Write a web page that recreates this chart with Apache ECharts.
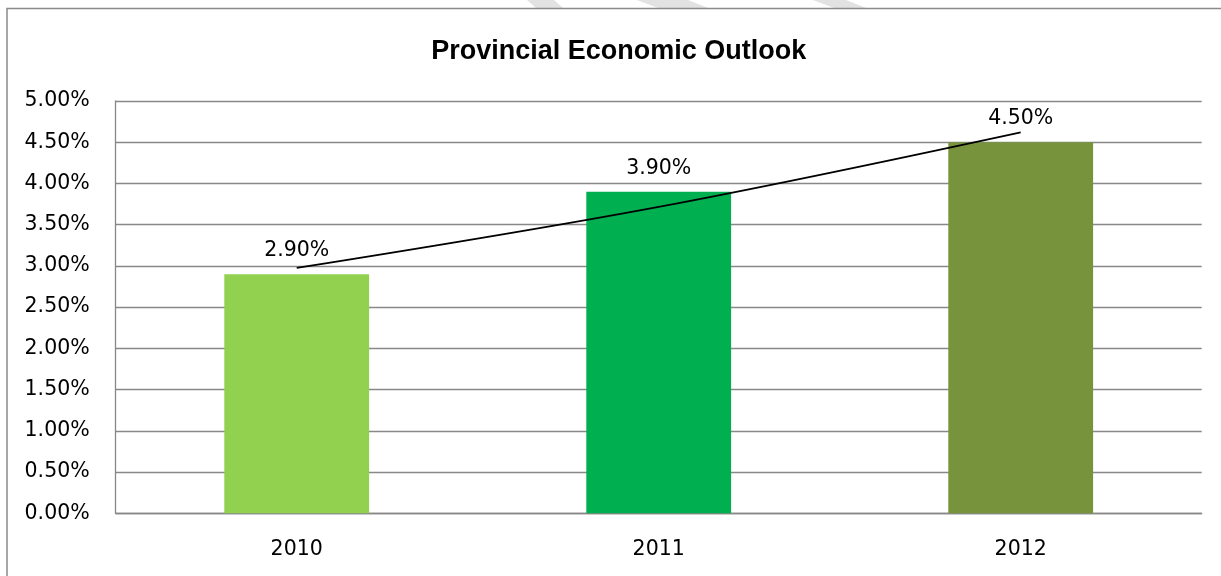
<!DOCTYPE html>
<html>
<head>
<meta charset="utf-8">
<script src="https://cdn.jsdelivr.net/npm/echarts@6/dist/echarts.min.js"></script>
<style>
html,body{margin:0;padding:0;background:#fff;}
#chart{width:1221px;height:576px;}
</style>
</head>
<body>
<div id="chart"></div>
<script>
const categories = ['2010', '2011', '2012'];
const growthValues = [2.9, 3.9, 4.5];
const barColors = ['#92D050', '#00B050', '#77933C'];
const trendValues = [2.975, 3.716, 4.62];
const yTickMin = 0, yTickMax = 5, yTickStep = 0.5;
const titleText = 'Provincial Economic Outlook';

const chart = echarts.init(document.getElementById('chart'), null, {renderer: 'canvas'});
const axisFont = {fontFamily: 'DejaVu Sans', fontSize: 20.5, color: '#000'};

chart.setOption({
  animation: false,
  backgroundColor: '#fff',
  title: {
    text: titleText,
    left: 618.7,
    textAlign: 'center',
    top: 38,
    padding: 0,
    textStyle: {fontFamily: 'Liberation Sans', fontWeight: 'bold', fontSize: 27, color: '#000'}
  },
  graphic: [
    {type: 'polygon', shape: {points: [[527,0],[554,0],[563,8],[536,8]]}, style: {fill: '#e2e2e2'}, silent: true},
    {type: 'polygon', shape: {points: [[637,0],[688,0],[708,8],[658,8]]}, style: {fill: '#e2e2e2'}, silent: true},
    {type: 'polygon', shape: {points: [[813,0],[846,0],[866,8],[834,8]]}, style: {fill: '#e2e2e2'}, silent: true},
    {type: 'rect', shape: {x: 7, y: 8.5, width: 1400, height: 800}, style: {fill: 'none', stroke: '#8a8a8a', lineWidth: 1.5}, silent: true, z: 0}
  ],
  grid: {left: 115.7, right: 19.3, top: 101, bottom: 62.7, containLabel: false},
  xAxis: {
    type: 'category',
    data: categories,
    boundaryGap: true,
    axisLine: {show: true, lineStyle: {color: '#888', width: 1.3}},
    axisTick: {show: false},
    axisLabel: Object.assign({margin: 26}, axisFont),
    splitLine: {show: false}
  },
  yAxis: {
    type: 'value',
    min: yTickMin,
    max: yTickMax,
    interval: yTickStep,
    axisLine: {show: true, lineStyle: {color: '#888', width: 1.3}},
    axisTick: {show: false},
    axisLabel: Object.assign({margin: 26, formatter: v => v.toFixed(2) + '%'}, axisFont),
    splitLine: {show: true, lineStyle: {color: '#888', width: 1.3}}
  },
  series: [
    {
      type: 'bar',
      barWidth: '40%',
      data: growthValues.map((v, i) => ({value: v, itemStyle: {color: barColors[i]}})),
      label: {
        show: true,
        position: 'top',
        distance: 13,
        formatter: p => p.value.toFixed(2) + '%',
        fontFamily: 'DejaVu Sans',
        fontSize: 20.5,
        color: '#000'
      },
      z: 2
    },
    {
      type: 'line',
      data: trendValues,
      smooth: 0.35,
      symbol: 'none',
      lineStyle: {color: '#000', width: 1.8},
      z: 5
    }
  ]
});
</script>
</body>
</html>
